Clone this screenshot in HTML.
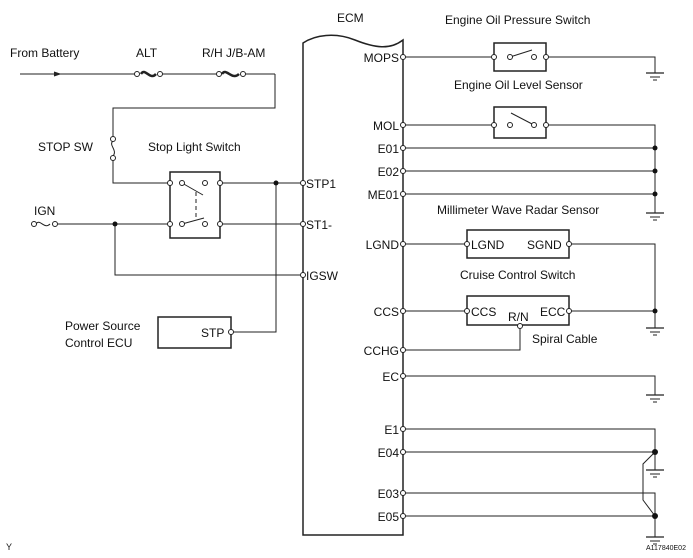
<!DOCTYPE html>
<html><head><meta charset="utf-8"><style>body{margin:0;background:#fff}svg{display:block}text{font-family:"Liberation Sans",Arial,sans-serif;font-size:12px;fill:#111}</style></head>
<body>
<svg width="693" height="558" viewBox="0 0 693 558" xmlns="http://www.w3.org/2000/svg">
<defs>
<g id="gnd"><line x1="-9" y1="0" x2="9" y2="0" stroke="#222" stroke-width="1.3"/><line x1="-5" y1="4" x2="5" y2="4" stroke="#222" stroke-width="1"/><line x1="-2" y1="7" x2="2" y2="7" stroke="#222" stroke-width="1"/></g>
</defs>
<g fill="none" stroke="#222" stroke-width="1">
<path d="M303 43 C315 35 335 32 355 40 C375 48 390 50 403 40 L403 535 L303 535 Z" stroke-width="1.5"/>
<line x1="20" y1="74" x2="137" y2="74"/>
<path d="M54 72 L60 74 L54 76" fill="#222"/>
<line x1="160" y1="74" x2="218" y2="74"/>
<line x1="243" y1="74" x2="275" y2="74"/>
<path d="M275 74 V108 H113 V138"/>
<path d="M113 159 V183 H170"/>
<path d="M113 141 C108 145 118 150 113 156"/>
<path d="M141 74 C145 67 150 81 156 74" stroke-width="2.5"/>
<path d="M222 74 C226 67 232 81 239 74" stroke-width="2.5"/>
<rect x="170" y="172" width="50" height="66" stroke-width="1.5"/>
<line x1="182" y1="183" x2="203" y2="195"/>
<line x1="182" y1="224" x2="204" y2="218"/>
<line x1="196" y1="192" x2="196" y2="220" stroke-dasharray="4,3"/>
<line x1="220" y1="183" x2="303" y2="183"/>
<line x1="58" y1="224" x2="170" y2="224"/>
<line x1="220" y1="224" x2="303" y2="224"/>
<path d="M36 224 C40 218 44 230 50 224"/>
<path d="M115 224 V275 H303"/>
<path d="M276 183 V332 H231"/>
<rect x="158" y="317" width="73" height="31" stroke-width="1.5"/>
<line x1="403" y1="57" x2="494" y2="57"/>
<rect x="494" y="43" width="52" height="28" stroke-width="1.5"/>
<line x1="510" y1="57" x2="532" y2="50"/>
<path d="M546 57 H655 V73"/>
<line x1="403" y1="125" x2="494" y2="125"/>
<rect x="494" y="107" width="52" height="31" stroke-width="1.5"/>
<line x1="511" y1="113" x2="534" y2="125"/>
<path d="M546 125 H655 V213"/>
<line x1="403" y1="148" x2="655" y2="148"/>
<line x1="403" y1="171" x2="655" y2="171"/>
<line x1="403" y1="194" x2="655" y2="194"/>
<line x1="403" y1="244" x2="467" y2="244"/>
<rect x="467" y="230" width="102" height="28" stroke-width="1.5"/>
<path d="M569 244 H655 V328"/>
<line x1="403" y1="311" x2="467" y2="311"/>
<rect x="467" y="296" width="102" height="29" stroke-width="1.5"/>
<line x1="569" y1="311" x2="655" y2="311"/>
<path d="M520 326 V350 H403"/>
<path d="M403 376 H655 V395"/>
<path d="M403 429 H655 V470"/>
<line x1="403" y1="452" x2="655" y2="452"/>
<path d="M655 452 L643 464 V500 L655 516"/>
<path d="M403 493 H655 V537"/>
<line x1="403" y1="516" x2="655" y2="516"/>
</g>
<use href="#gnd" x="655" y="73"/><use href="#gnd" x="655" y="213"/><use href="#gnd" x="655" y="328"/><use href="#gnd" x="655" y="395"/><use href="#gnd" x="655" y="470"/><use href="#gnd" x="655" y="537"/>
<g fill="#111">
<circle cx="276" cy="183" r="2.5"/><circle cx="115" cy="224" r="2.5"/>
<circle cx="655" cy="148" r="2.5"/><circle cx="655" cy="171" r="2.5"/><circle cx="655" cy="194" r="2.5"/>
<circle cx="655" cy="311" r="2.5"/><circle cx="655" cy="452" r="3"/><circle cx="655" cy="516" r="3"/>
</g>
<g fill="#fff" stroke="#222" stroke-width="1">
<circle cx="137" cy="74" r="2.5"/><circle cx="160" cy="74" r="2.5"/><circle cx="219" cy="74" r="2.5"/><circle cx="243" cy="74" r="2.5"/>
<circle cx="113" cy="139" r="2.5"/><circle cx="113" cy="158" r="2.5"/>
<circle cx="34" cy="224" r="2.5"/><circle cx="55" cy="224" r="2.5"/>
<circle cx="170" cy="183" r="2.5"/><circle cx="182" cy="183" r="2.5"/><circle cx="205" cy="183" r="2.5"/><circle cx="220" cy="183" r="2.5"/>
<circle cx="170" cy="224" r="2.5"/><circle cx="182" cy="224" r="2.5"/><circle cx="205" cy="224" r="2.5"/><circle cx="220" cy="224" r="2.5"/>
<circle cx="303" cy="183" r="2.5"/><circle cx="303" cy="224" r="2.5"/><circle cx="303" cy="275" r="2.5"/><circle cx="231" cy="332" r="2.5"/>
<circle cx="403" cy="57" r="2.5"/><circle cx="403" cy="125" r="2.5"/><circle cx="403" cy="148" r="2.5"/><circle cx="403" cy="171" r="2.5"/><circle cx="403" cy="194" r="2.5"/><circle cx="403" cy="244" r="2.5"/><circle cx="403" cy="311" r="2.5"/><circle cx="403" cy="350" r="2.5"/><circle cx="403" cy="376" r="2.5"/><circle cx="403" cy="429" r="2.5"/><circle cx="403" cy="452" r="2.5"/><circle cx="403" cy="493" r="2.5"/><circle cx="403" cy="516" r="2.5"/>
<circle cx="494" cy="57" r="2.5"/><circle cx="510" cy="57" r="2.5"/><circle cx="534" cy="57" r="2.5"/><circle cx="546" cy="57" r="2.5"/>
<circle cx="494" cy="125" r="2.5"/><circle cx="510" cy="125" r="2.5"/><circle cx="534" cy="125" r="2.5"/><circle cx="546" cy="125" r="2.5"/>
<circle cx="467" cy="244" r="2.5"/><circle cx="569" cy="244" r="2.5"/><circle cx="467" cy="311" r="2.5"/><circle cx="569" cy="311" r="2.5"/><circle cx="520" cy="326" r="2.5"/>
</g>
<text x="10" y="57">From Battery</text><text x="136" y="57">ALT</text><text x="202" y="57">R/H J/B-AM</text>
<text x="38" y="151">STOP SW</text><text x="148" y="151">Stop Light Switch</text><text x="34" y="215">IGN</text>
<text x="306" y="188">STP1</text><text x="306" y="229">ST1-</text><text x="306" y="280">IGSW</text>
<text x="65" y="330">Power Source</text><text x="65" y="347">Control ECU</text><text x="201" y="337">STP</text>
<text x="337" y="22">ECM</text><text x="445" y="24">Engine Oil Pressure Switch</text><text x="454" y="89">Engine Oil Level Sensor</text>
<text x="437" y="214">Millimeter Wave Radar Sensor</text><text x="460" y="279">Cruise Control Switch</text><text x="532" y="343">Spiral Cable</text>
<g text-anchor="end"><text x="399" y="62">MOPS</text><text x="399" y="130">MOL</text><text x="399" y="153">E01</text><text x="399" y="176">E02</text><text x="399" y="199">ME01</text><text x="399" y="249">LGND</text><text x="399" y="316">CCS</text><text x="399" y="355">CCHG</text><text x="399" y="381">EC</text><text x="399" y="434">E1</text><text x="399" y="457">E04</text><text x="399" y="498">E03</text><text x="399" y="521">E05</text></g>
<text x="471" y="249">LGND</text><text x="527" y="249">SGND</text><text x="471" y="316">CCS</text><text x="508" y="321">R/N</text><text x="540" y="316">ECC</text>
<text x="6" y="550" style="font-size:9px">Y</text><text x="646" y="550" style="font-size:7px">A117840E02</text>
</svg>
</body></html>
